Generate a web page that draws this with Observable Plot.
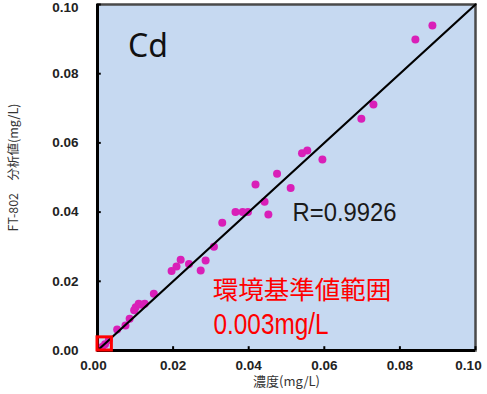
<!DOCTYPE html>
<html>
<head>
<meta charset="utf-8">
<script src="https://cdn.jsdelivr.net/npm/d3@7"></script>
<script src="https://cdn.jsdelivr.net/npm/@observablehq/plot@0.6"></script>
<style>
  html, body { margin: 0; padding: 0; background: #ffffff; }
  #chart svg { display: block; }
</style>
</head>
<body>
<div id="chart"></div>
<script>
// ---- data ----
const xTicks = [0, 0.02, 0.04, 0.06, 0.08, 0.10];
const yTicks = [0, 0.02, 0.04, 0.06, 0.08, 0.10];
const concentration = [
  0.0886, 0.0841, 0.0730, 0.0698, 0.0595, 0.0555, 0.0541, 0.0475, 0.0511, 0.0418,
  0.0442, 0.0452, 0.0365, 0.0384, 0.0398, 0.0330, 0.0308, 0.0286, 0.0273, 0.0242,
  0.0220, 0.0209, 0.0196, 0.0149, 0.0109, 0.0118, 0.0101, 0.0097, 0.0125, 0.0085,
  0.0074, 0.0052, 0.0030, 0.0020, 0.0012
];
const analyzed = [
  0.0939, 0.0899, 0.0711, 0.0670, 0.0552, 0.0578, 0.0570, 0.0511, 0.0470, 0.0480,
  0.0430, 0.0393, 0.0400, 0.0400, 0.0400, 0.0369, 0.0300, 0.0260, 0.0231, 0.0250,
  0.0262, 0.0243, 0.0230, 0.0164, 0.0135, 0.0132, 0.0125, 0.0116, 0.0135, 0.0092,
  0.0072, 0.0061, 0.0030, 0.0018, 0.0010
];
const fitX = [0, 0.10];
const fitY = [0, 0.10];
const limitBox = 0.0038;
const xLabel = "濃度(mg/L)";
const yLabel = "FT-802　分析値(mg/L)";
const elementLabel = "Cd";
const rLabel = "R=0.9926";
const limitLabel1 = "環境基準値範囲";
const limitLabel2 = "0.003mg/L";

// ---- build ----
const points = concentration.map((c, i) => ({x: c, y: analyzed[i]}));
const fit = fitX.map((v, i) => ({x: v, y: fitY[i]}));
const fmt = d => d.toFixed(2);
const sans = "'Liberation Sans', Arial, sans-serif";
const cjk = "'Noto Sans CJK JP', 'Noto Sans', sans-serif";
const tickStyle = {tickSize: 0, tickFormat: fmt, fontSize: 13.5, fontWeight: "bold",
  fontFamily: sans, fill: "#222", label: null};

const chart = Plot.plot({
  width: 487,
  height: 394,
  marginLeft: 97,
  marginRight: 12,
  marginTop: 4,
  marginBottom: 44,
  style: {background: "#ffffff", overflow: "visible"},
  x: {domain: [0, 0.10], axis: null},
  y: {domain: [0, 0.10], axis: null},
  marks: [
    Plot.frame({fill: "#c6d9f1", stroke: "#4a4a4a", strokeWidth: 2.5}),
    Plot.axisX(xTicks.slice(0, 1), {...tickStyle, tickPadding: 10, dx: -4}),
    Plot.axisX(xTicks.slice(1, -1), {...tickStyle, tickPadding: 10}),
    Plot.axisX(xTicks.slice(-1), {...tickStyle, tickPadding: 10, dx: -7}),
    Plot.axisY(yTicks.slice(0, -1), {...tickStyle, tickPadding: 19}),
    Plot.axisY(yTicks.slice(-1), {...tickStyle, tickPadding: 19, dy: 3}),
    Plot.ruleX(xTicks, {y1: 0, y2: 0.0011, stroke: "#000", strokeWidth: 2}),
    Plot.ruleY(yTicks, {x1: 0, x2: 0.0010, stroke: "#000", strokeWidth: 2}),
    Plot.dot(points, {x: "x", y: "y", r: 4, fill: "#d91fb8", stroke: "none"}),
    Plot.line(fit, {x: "x", y: "y", stroke: "#000", strokeWidth: 2.2}),
    Plot.ruleX([0], {stroke: "#000", strokeWidth: 3}),
    Plot.ruleY([0], {stroke: "#000", strokeWidth: 3}),
    Plot.rect([{x1: 0, x2: limitBox, y1: 0, y2: limitBox}], {x1: "x1", x2: "x2", y1: "y1", y2: "y2",
      fill: "none", stroke: "#ff0000", strokeWidth: 3}),
    Plot.text([elementLabel], {x: 0.0081, y: 0.0877, text: d => d, textAnchor: "start", lineAnchor: "middle",
      fontSize: 32, fontFamily: "'Noto Sans', 'Open Sans', sans-serif", fill: "#111"}),
    Plot.text([rLabel], {x: 0.0516, y: 0.0397, text: d => d, textAnchor: "start", lineAnchor: "middle",
      fontSize: 25, fontFamily: sans, fill: "#1a1a1a"}),
    Plot.text([limitLabel1], {x: 0.0305, y: 0.0173, text: d => d, textAnchor: "start", lineAnchor: "middle",
      fontSize: 25.5, fontFamily: cjk, fill: "#ff0000"}),
    Plot.text([limitLabel2], {x: 0.0307, y: 0.0075, text: d => d, textAnchor: "start", lineAnchor: "middle",
      fontSize: 29, fontFamily: sans, fill: "#ff0000"}),
    Plot.text([xLabel], {frameAnchor: "bottom", dy: 35, text: d => d, fontSize: 13, fontFamily: cjk, fill: "#333"}),
    Plot.text([yLabel], {frameAnchor: "left", textAnchor: "middle", dx: -84, dy: -10, rotate: -90, text: d => d,
      fontSize: 12.5, fontFamily: cjk, fill: "#333"})
  ]
});

// condense two labels to the narrow widths seen in the reference
d3.select(chart).selectAll("text").each(function () {
  const t = this.textContent;
  if (t === rLabel) d3.select(this).attr("textLength", 104).attr("lengthAdjust", "spacingAndGlyphs");
  if (t === limitLabel2) d3.select(this).attr("textLength", 115).attr("lengthAdjust", "spacingAndGlyphs");
});
document.getElementById("chart").appendChild(chart);
</script>
</body>
</html>
